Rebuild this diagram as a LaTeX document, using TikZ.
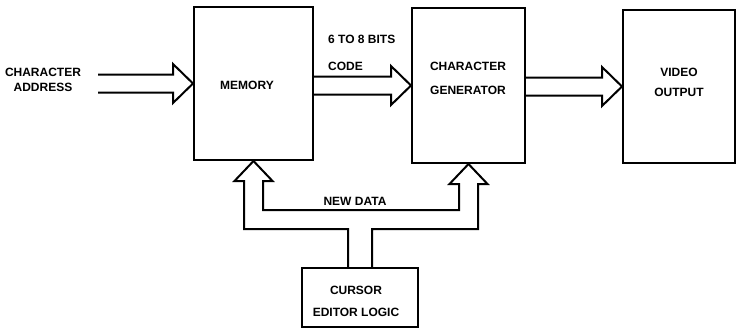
\documentclass[tikz,border=0pt]{standalone}
\usepackage{fontspec}
\setmainfont{Liberation Sans}
\usetikzlibrary{calc}

% hollow wide arrow, open at the tail
\newcommand{\fatarrow}[2]{%
  \draw[fat] let \p1=(#1), \p2=(#2) in
    (\x1,\y2+9pt) -- (\x2-20pt,\y2+9pt) -- (\x2-20pt,\y2+19.5pt) -- (\p2)
    -- (\x2-20pt,\y2-19.5pt) -- (\x2-20pt,\y2-9pt) -- (\x1,\y2-9pt);}

\begin{document}
\begin{tikzpicture}[x=1pt,y=-1pt,font=\fontsize{12}{14.4}\selectfont\bfseries,
  box/.style={draw,line width=2pt,inner sep=0pt},
  txt/.style={align=center,inner sep=0pt},
  fat/.style={line width=2pt,line join=miter}]
\useasboundingbox (0,0) rectangle (737,330);
\node[box,minimum width=119pt,minimum height=153pt] (mem) at (253.5,83.5) {};
\node[box,minimum width=113pt,minimum height=155pt] (gen) at (468.5,85.5) {};
\node[box,minimum width=112pt,minimum height=153pt] (vid) at (679,86.5) {};
\node[box,minimum width=116pt,minimum height=59pt] (cur) at (360,297.5) {};
\node[txt] (memtext) at (247,85) {MEMORY};
\node[txt] (gentext) at (468,78.5) {CHARACTER\\[10pt]GENERATOR};
\node[txt] (vidtext) at (679,82.5) {VIDEO\\[5pt]OUTPUT};
\node[txt] (curtext) at (356,301.5) {CURSOR\\[7pt]EDITOR LOGIC};
\node[txt] (addrtext) at (43,80) {CHARACTER\\ADDRESS};
\node[txt,align=left,anchor=west] (codetext) at (328,53) {6 TO 8 BITS\\[12pt]CODE};
\node[txt] (newtext) at (355,201) {NEW DATA};
\coordinate (addr) at (98,82);
% data paths
\fatarrow{addr}{mem.west}
\fatarrow{mem.east}{gen.west}
\fatarrow{gen.east}{vid.west}
% new data from the cursor logic
\draw[fat] let \p1=(cur.north), \p2=(mem.south), \p3=(gen.south) in
  (\x1-12pt,\y1) |- (\x2-9.5pt,\y1+38pt) -- (\x2-9.5pt,\y2-20pt)
  -- (\x2-19pt,\y2-20pt) -- (\p2) -- (\x2+19pt,\y2-20pt) -- (\x2+9.5pt,\y2-20pt)
  |- (\x3-9.5pt,\y1+57pt) -- (\x3-9.5pt,\y3-20pt) -- (\x3-19pt,\y3-20pt)
  -- (\p3) -- (\x3+19pt,\y3-20pt) -- (\x3+9.5pt,\y3-20pt)
  |- (\x1+12pt,\y1+38pt) -- (\x1+12pt,\y1);
\end{tikzpicture}
\end{document}
